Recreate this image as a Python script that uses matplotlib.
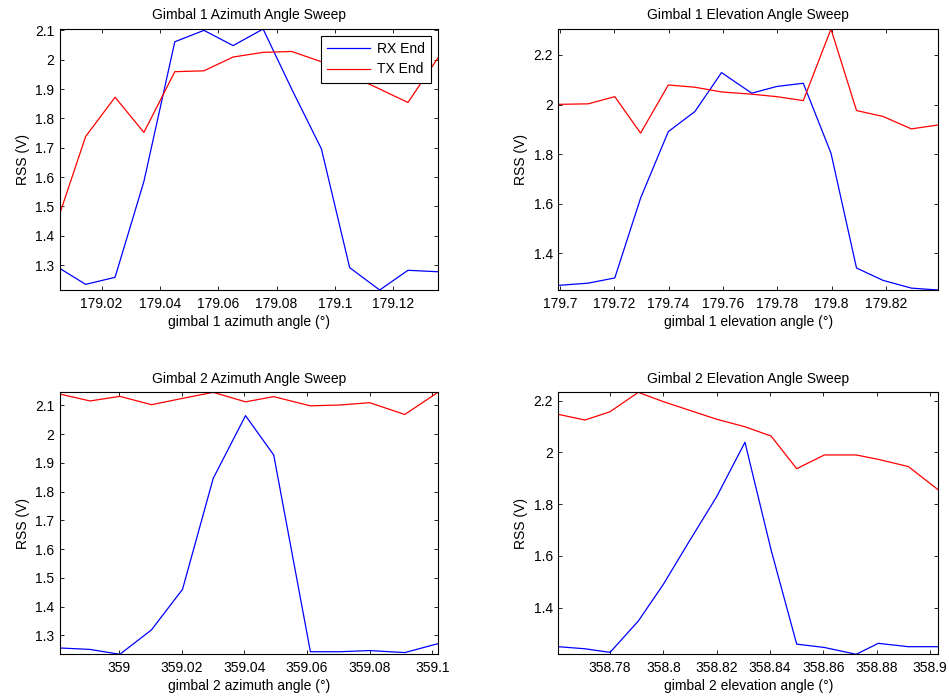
import matplotlib
matplotlib.use("Agg")
import matplotlib.pyplot as plt

plt.rcParams['font.family'] = ['Liberation Sans', 'DejaVu Sans']

# gimbal 1 azimuth sweep
az1_x = [179.0057, 179.0145, 179.0246, 179.0345, 179.0451, 179.0551, 179.0651,
         179.0754, 179.0852, 179.0954, 179.1051, 179.1154, 179.1251, 179.1354]
az1_rx = [1.288, 1.234, 1.258, 1.585, 2.061, 2.100, 2.048,
          2.1045, 1.900, 1.696, 1.291, 1.2147, 1.282, 1.277]
az1_tx = [1.477, 1.738, 1.872, 1.752, 1.959, 1.962, 2.009,
          2.025, 2.028, 1.993, 1.948, 1.900, 1.854, 2.006]

# gimbal 1 elevation sweep
el1_x = [179.6994, 179.7104, 179.7202, 179.7297, 179.7399, 179.7497, 179.7595, 179.7706,
         179.7798, 179.7896, 179.7998, 179.8092, 179.8190, 179.8294, 179.8393]
el1_rx = [1.271, 1.280, 1.301, 1.623, 1.891, 1.972, 2.129, 2.046,
          2.073, 2.086, 1.804, 1.341, 1.291, 1.260, 1.2523]
el1_tx = [2.001, 2.003, 2.032, 1.885, 2.079, 2.070, 2.051, 2.042,
          2.032, 2.016, 2.3047, 1.976, 1.952, 1.902, 1.918]

# gimbal 2 azimuth sweep
az2_x = [358.9812, 358.9908, 359.0003, 359.0104, 359.0203, 359.0301, 359.0404,
         359.0494, 359.0611, 359.0705, 359.0800, 359.0912, 359.1018]
az2_rx = [1.256, 1.251, 1.234, 1.319, 1.460, 1.846, 2.064,
          1.927, 1.243, 1.243, 1.247, 1.240, 1.271]
az2_tx = [2.139, 2.115, 2.131, 2.102, 2.124, 2.145, 2.112,
          2.130, 2.098, 2.101, 2.109, 2.068, 2.145]

# gimbal 2 elevation sweep
el2_x = [358.7606, 358.7706, 358.7800, 358.7906, 358.8000, 358.8094, 358.8200, 358.8306,
         358.8404, 358.8500, 358.8604, 358.8723, 358.8806, 358.8919, 358.9031]
el2_rx = [1.249, 1.241, 1.227, 1.348, 1.490, 1.651, 1.829, 2.039,
          1.623, 1.259, 1.246, 1.2196, 1.262, 1.249, 1.249]
el2_tx = [2.147, 2.125, 2.157, 2.232, 2.196, 2.164, 2.128, 2.099,
          2.063, 1.937, 1.990, 1.990, 1.973, 1.945, 1.855]

panels = [
    ("Gimbal 1 Azimuth Angle Sweep", "gimbal 1 azimuth angle (°)", az1_x, az1_rx, az1_tx,
     [179.02, 179.04, 179.06, 179.08, 179.1, 179.12], [1.3, 1.4, 1.5, 1.6, 1.7, 1.8, 1.9, 2.0, 2.1]),
    ("Gimbal 1 Elevation Angle Sweep", "gimbal 1 elevation angle (°)", el1_x, el1_rx, el1_tx,
     [179.7, 179.72, 179.74, 179.76, 179.78, 179.8, 179.82], [1.4, 1.6, 1.8, 2.0, 2.2]),
    ("Gimbal 2 Azimuth Angle Sweep", "gimbal 2 azimuth angle (°)", az2_x, az2_rx, az2_tx,
     [359, 359.02, 359.04, 359.06, 359.08, 359.1], [1.3, 1.4, 1.5, 1.6, 1.7, 1.8, 1.9, 2.0, 2.1]),
    ("Gimbal 2 Elevation Angle Sweep", "gimbal 2 elevation angle (°)", el2_x, el2_rx, el2_tx,
     [358.78, 358.8, 358.82, 358.84, 358.86, 358.88, 358.9], [1.4, 1.6, 1.8, 2.0, 2.2]),
]

positions = [
    [0.0632, 0.5833, 0.3983, 0.375],
    [0.5883, 0.5833, 0.4004, 0.375],
    [0.0632, 0.0599, 0.3983, 0.3764],
    [0.5883, 0.0599, 0.4004, 0.3764],
]

def fmt(v):
    s = "%.2f" % v
    s = s.rstrip('0').rstrip('.')
    return s

fs = 10

fig = plt.figure(figsize=(9.49, 6.96), dpi=100)

for i, (title, xlabel, x, rx, tx, xt, yt) in enumerate(panels):
    ax = fig.add_axes(positions[i])
    ax.plot(x, rx, color='blue', lw=0.9, label='RX End')
    ax.plot(x, tx, color='red', lw=0.9, label='TX End')
    ax.set_xlim(min(x), max(x))
    ax.set_ylim(min(rx + tx), max(rx + tx))
    ax.set_xticks(xt)
    ax.set_xticklabels([fmt(v) for v in xt])
    ax.set_yticks(yt)
    ax.set_yticklabels([fmt(v) for v in yt])
    ax.tick_params(direction='in', top=True, right=True, length=3, width=0.6,
                   labelsize=fs)
    ax.tick_params(axis='x', pad=5)
    ax.tick_params(axis='y', pad=4)
    for sp in ax.spines.values():
        sp.set_linewidth(0.8)
    ax.set_title(title, fontsize=fs, pad=7)
    ax.set_xlabel(xlabel, fontsize=fs, labelpad=3)
    ax.set_ylabel("RSS (V)", fontsize=fs, labelpad=3.5)
    if i == 0:
        leg = ax.legend(loc='upper right', fontsize=fs, fancybox=False, framealpha=1,
                        borderpad=0.45, handlelength=3.1, borderaxespad=0.5,
                        handletextpad=0.5, labelspacing=0.45)
        leg.get_frame().set_edgecolor('black')
        leg.get_frame().set_linewidth(0.8)

fig.savefig("out.png", dpi=100)
